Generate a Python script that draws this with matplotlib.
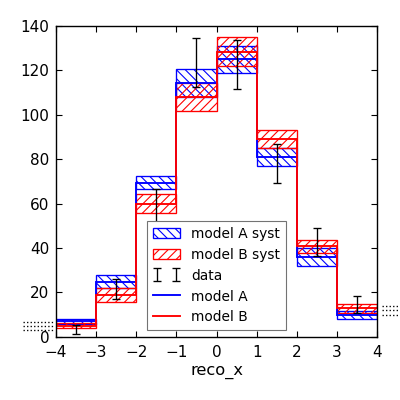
import numpy as np
import matplotlib.pyplot as plt

# binned values
bin_edges = [-4, -3, -2, -1, 0, 1, 2, 3, 4]
bin_centers = [-3.5, -2.5, -1.5, -0.5, 0.5, 1.5, 2.5, 3.5]
model_a = [7.0, 24.8, 69.5, 114.4, 125.0, 81.0, 36.0, 9.8]
model_a_syst = [1.2, 3.0, 2.9, 6.3, 6.2, 4.0, 4.0, 1.8]
model_b = [5.0, 18.9, 60.0, 108.0, 128.5, 89.2, 40.7, 12.8]
model_b_syst = [1.2, 3.0, 4.2, 6.4, 6.4, 4.0, 2.8, 1.9]
data = [3.2, 21.5, 58.9, 123.7, 122.8, 77.9, 42.7, 14.6]
data_err = [1.9, 4.6, 7.5, 11.0, 11.1, 8.8, 6.5, 3.8]

# little dotted stubs that stick out of the axes at both ends
stub_left_y = [6.6, 4.8, 3.0]
stub_left_x = (-4.82, -4.07)
stub_right_y = [13.8, 12.0, 9.8]
stub_right_x = (4.12, 4.57)

a = np.array(model_a)
sa = np.array(model_a_syst)
b = np.array(model_b)
sb = np.array(model_b_syst)

fig = plt.figure(figsize=(5, 5), dpi=80)
ax = fig.add_axes([0.14, 0.158, 0.8025, 0.777])

h_asyst = ax.bar(bin_centers, 2 * sa, bottom=a - sa, width=1.0, fill=False,
                 edgecolor="blue", hatch="\\\\\\", linewidth=1.2, label="model A syst")
h_bsyst = ax.bar(bin_centers, 2 * sb, bottom=b - sb, width=1.0, fill=False,
                 edgecolor="red", hatch="///", linewidth=1.2, label="model B syst")
h_data = ax.errorbar(bin_centers, data, yerr=data_err, fmt="none", ecolor="k",
                     elinewidth=1.2, capsize=3.5, capthick=1.2, label="data")
h_a = ax.stairs(model_a, bin_edges, baseline=None, color="blue", linewidth=1.7, label="model A")
h_b = ax.stairs(model_b, bin_edges, baseline=None, color="red", linewidth=1.7, label="model B")

ax.hlines(stub_left_y, *stub_left_x, colors="k", linestyles=":", linewidth=1.2, clip_on=False)
ax.hlines(stub_right_y, *stub_right_x, colors="k", linestyles=":", linewidth=1.2, clip_on=False)

ax.set_xlim(-4, 4)
ax.set_ylim(0, 140)
ax.set_xticks(bin_edges)
ax.set_yticks(np.arange(0, 141, 20))
ax.tick_params(direction="in", top=True, right=True, labelsize=13.7, length=5, width=1)
ax.tick_params(axis="x", pad=7)
ax.tick_params(axis="y", pad=6)
for s in ax.spines.values():
    s.set_linewidth(1.25)
ax.set_xlabel("reco_x", fontsize=14.6)

ax.legend([h_asyst, h_bsyst, h_data, h_a, h_b],
          ["model A syst", "model B syst", "data", "model A", "model B"],
          loc="lower center", numpoints=2, fancybox=False, edgecolor="0.45",
          fontsize=12.4, labelspacing=0.5, handleheight=0.8, framealpha=1)

fig.savefig("out.png", dpi=80)
